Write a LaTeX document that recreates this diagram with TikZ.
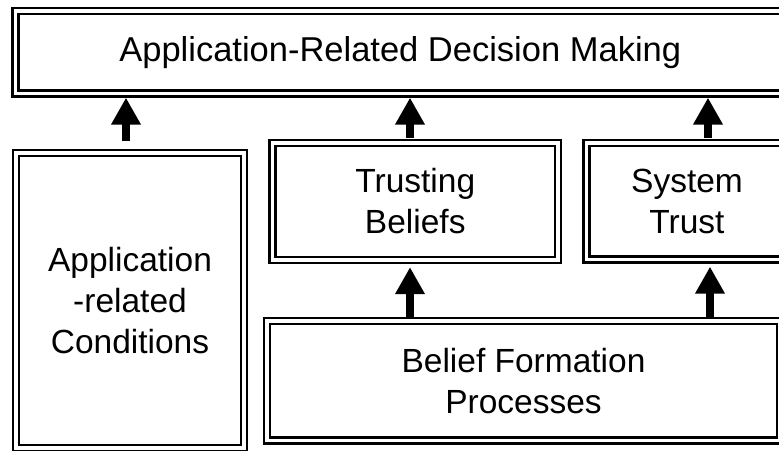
\documentclass[tikz,border=0pt]{standalone}
\usepackage{fontspec}
\setmainfont{Liberation Sans}
\usetikzlibrary{arrows.meta}

\tikzset{
  dbox/.style={draw=black, line width=2.3pt, double=white, double distance=3.6pt,
    rectangle, inner sep=0pt, align=center, fill=white,
    font=\fontsize{33.5}{41}\selectfont},
  uparrow/.style={line width=8pt, -{Triangle[width=28pt,length=27pt]}},
}

\begin{document}
\begin{tikzpicture}[x=1pt, y=-1pt]
  \useasboundingbox (0,0) rectangle (779,450);
  \clip (0,0) rectangle (779,450);

  % boxes (centre lines of the double borders)
  \node[dbox, minimum width=769.5pt, minimum height=82.5pt,
        font=\fontsize{34.5}{41}\selectfont] (decide) at (400.25,52.25)
        {Application-Related Decision Making};
  \node[dbox, minimum width=228pt, minimum height=295pt] (cond) at (130,300.5)
        {Application\\-related\\Conditions};
  \node[dbox, minimum width=285.5pt, minimum height=117pt] (trusting) at (415.25,201.5)
        {Trusting\\Beliefs};
  \node[dbox, minimum width=201pt, minimum height=116.5pt] (system) at (687,201.25)
        {System\\Trust};
  \node[dbox, minimum width=513pt, minimum height=119.5pt] (belief) at (523.5,380.75)
        {Belief Formation\\Processes};

  % arrow columns
  \coordinate (colA) at (126,0);
  \coordinate (colB) at (410,0);
  \coordinate (colC) at (708,0);
  \coordinate (colD) at (710,0);

  \draw[uparrow] ([yshift=11pt]cond.north -| colA) -- ([yshift=-3pt]decide.south -| colA);
  \draw[uparrow] ([yshift=4pt]trusting.north -| colB) -- ([yshift=-3pt]decide.south -| colB);
  \draw[uparrow] ([yshift=4pt]system.north -| colC) -- ([yshift=-3pt]decide.south -| colC);
  \draw[uparrow] ([yshift=3pt]belief.north -| colB) -- ([yshift=-6pt]trusting.south -| colB);
  \draw[uparrow] ([yshift=3pt]belief.north -| colD) -- ([yshift=-6pt]system.south -| colD);
\end{tikzpicture}
\end{document}
